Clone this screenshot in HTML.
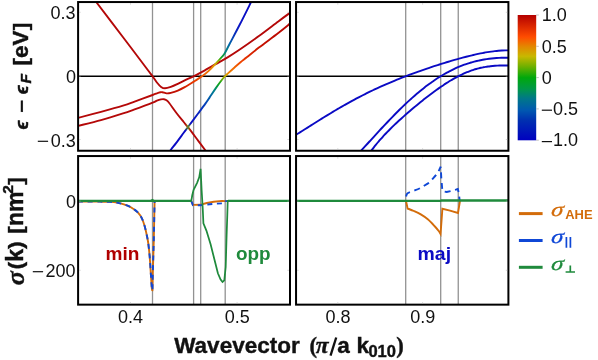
<!DOCTYPE html>
<html><head><meta charset="utf-8"><title>Band structure</title>
<style>
html,body{margin:0;padding:0;background:#fff;}
body{width:598px;height:360px;overflow:hidden;}
svg{display:block;will-change:transform;}
text{font-family:"Liberation Sans",sans-serif;}
.tk{font-size:18px;fill:#111;}
.ser{font-family:"Liberation Serif",serif;}
</style></head><body>
<svg width="598" height="360" viewBox="0 0 598 360">
<defs>
<linearGradient id="cb" x1="0" y1="0" x2="0" y2="1"><stop offset="0.0000" stop-color="#b40000"/><stop offset="0.1750" stop-color="#ff4c00"/><stop offset="0.2500" stop-color="#e48600"/><stop offset="0.3300" stop-color="#c8b800"/><stop offset="0.4100" stop-color="#70b000"/><stop offset="0.5000" stop-color="#00a80c"/><stop offset="0.5900" stop-color="#009848"/><stop offset="0.6650" stop-color="#007888"/><stop offset="0.7600" stop-color="#0058b0"/><stop offset="0.8400" stop-color="#0030b0"/><stop offset="1.0000" stop-color="#0000c0"/></linearGradient>
<linearGradient id="gC" gradientUnits="userSpaceOnUse" x1="0" y1="20.00" x2="0" y2="151.00"><stop offset="0.0000" stop-color="#b40404"/><stop offset="0.1908" stop-color="#c41000"/><stop offset="0.2824" stop-color="#e02c00"/><stop offset="0.3206" stop-color="#f04400"/><stop offset="0.4008" stop-color="#f08000"/><stop offset="0.4275" stop-color="#d0b400"/><stop offset="0.4427" stop-color="#90b000"/><stop offset="0.4733" stop-color="#20a818"/><stop offset="0.4962" stop-color="#08a028"/><stop offset="0.5420" stop-color="#008090"/><stop offset="0.5878" stop-color="#0060a8"/><stop offset="0.6336" stop-color="#0444b8"/><stop offset="0.7023" stop-color="#0828c0"/><stop offset="0.7634" stop-color="#0a12c4"/><stop offset="0.7901" stop-color="#0a0ec4"/><stop offset="0.8053" stop-color="#3a6a50"/><stop offset="0.8168" stop-color="#6c8420"/><stop offset="0.8282" stop-color="#3a6a50"/><stop offset="0.8435" stop-color="#0a0ac4"/><stop offset="1.0000" stop-color="#0a0ac4"/></linearGradient>
<linearGradient id="gB" gradientUnits="userSpaceOnUse" x1="0" y1="2.00" x2="0" y2="126.00"><stop offset="0.0000" stop-color="#0a0ac4"/><stop offset="0.1935" stop-color="#0a14c4"/><stop offset="0.2742" stop-color="#0838b8"/><stop offset="0.3387" stop-color="#0064a8"/><stop offset="0.4073" stop-color="#008878"/><stop offset="0.4516" stop-color="#14a814"/><stop offset="0.4758" stop-color="#90b000"/><stop offset="0.5000" stop-color="#d0a800"/><stop offset="0.5242" stop-color="#e89000"/><stop offset="0.5645" stop-color="#f07000"/><stop offset="0.5968" stop-color="#f05a00"/><stop offset="0.6452" stop-color="#e83800"/><stop offset="0.6935" stop-color="#d01c00"/><stop offset="0.7339" stop-color="#bc0c04"/><stop offset="0.7903" stop-color="#b40808"/><stop offset="1.0000" stop-color="#b40808"/></linearGradient>
<linearGradient id="gD" gradientUnits="userSpaceOnUse" x1="78" y1="0" x2="210" y2="0"><stop offset="0.0000" stop-color="#b40808"/><stop offset="0.8121" stop-color="#b40808"/><stop offset="0.8242" stop-color="#a04c08"/><stop offset="0.8333" stop-color="#788418"/><stop offset="0.8424" stop-color="#a04c08"/><stop offset="0.8545" stop-color="#b40808"/><stop offset="1.0000" stop-color="#b40808"/></linearGradient>
<clipPath id="cTL"><rect x="78.10" y="2.05" width="211.90" height="148.70"/></clipPath>
<clipPath id="cTR"><rect x="296.05" y="2.05" width="212.35" height="148.70"/></clipPath>
<clipPath id="cBL"><rect x="78.10" y="156.05" width="211.90" height="148.60"/></clipPath>
<clipPath id="cBR"><rect x="296.05" y="156.05" width="212.35" height="148.60"/></clipPath>
</defs>
<rect width="598" height="360" fill="#fff"/>
<g stroke="#929292" stroke-width="1.3" fill="none"><path d="M152.50 2.05 V150.75"/><path d="M152.50 156.05 V304.65"/><path d="M193.60 2.05 V150.75"/><path d="M193.60 156.05 V304.65"/><path d="M200.70 2.05 V150.75"/><path d="M200.70 156.05 V304.65"/><path d="M225.20 2.05 V150.75"/><path d="M225.20 156.05 V304.65"/><path d="M405.70 2.05 V150.75"/><path d="M405.70 156.05 V304.65"/><path d="M440.70 2.05 V150.75"/><path d="M440.70 156.05 V304.65"/><path d="M458.25 2.05 V150.75"/><path d="M458.25 156.05 V304.65"/></g>
<g stroke="#000" stroke-width="1.3"><path d="M78.10 76.25 H290.00"/><path d="M296.05 76.25 H508.40"/></g>
<g clip-path="url(#cTL)" fill="none" stroke-width="1.9" stroke-linejoin="round">
<path d="M78.00 125.90 C81.83 124.93 93.50 122.18 101.00 120.10 C108.50 118.02 117.52 115.15 123.00 113.40 C128.48 111.65 128.97 111.40 133.90 109.60 C138.83 107.80 148.77 104.10 152.60 102.60 C156.43 101.10 155.50 101.13 156.90 100.60 C158.30 100.07 159.83 99.63 161.00 99.40 C162.17 99.17 162.98 99.05 163.90 99.20 C164.82 99.35 165.62 99.67 166.50 100.30 C167.38 100.93 167.54 100.88 169.20 103.00 C170.86 105.12 174.03 109.83 176.45 113.00 C178.87 116.17 181.77 119.63 183.70 122.00 C185.62 124.37 185.60 124.10 188.00 127.20 C190.40 130.30 195.18 136.72 198.10 140.60 C201.02 144.48 204.27 148.85 205.50 150.50" stroke="url(#gD)"/>
<path d="M170.00 151.00 C170.23 150.67 170.33 150.40 171.40 149.00 C172.47 147.60 174.40 145.30 176.45 142.60 C178.50 139.90 181.77 135.40 183.70 132.80 C185.62 130.20 185.60 130.22 188.00 127.00 C190.40 123.78 195.20 117.40 198.10 113.50 C201.00 109.60 203.50 106.25 205.40 103.60 C207.30 100.95 207.82 100.10 209.50 97.60 C211.18 95.10 213.46 91.53 215.50 88.60 C217.54 85.67 220.13 82.08 221.75 80.00 C223.37 77.92 224.16 77.20 225.20 76.10 C226.24 75.00 226.49 74.80 228.00 73.40 C229.51 72.00 232.17 69.57 234.25 67.70 C236.33 65.83 238.42 63.93 240.50 62.20 C242.58 60.47 243.68 59.73 246.75 57.30 C249.82 54.87 253.64 51.65 258.90 47.60 C264.16 43.55 273.12 37.00 278.30 33.00 C283.48 29.00 288.05 25.17 290.00 23.60" stroke="url(#gC)"/>
<path d="M96.20 2.00 C100.83 8.08 115.40 27.17 124.00 38.50 C132.60 49.83 143.04 63.71 147.80 70.00 C152.56 76.29 151.03 74.17 152.55 76.25 C154.07 78.33 155.48 80.72 156.90 82.50 C158.32 84.28 159.75 85.93 161.10 86.90 C162.45 87.87 163.38 88.30 165.00 88.30 C166.62 88.30 168.67 87.63 170.80 86.90 C172.93 86.17 175.48 84.98 177.80 83.90 C180.12 82.82 182.07 81.67 184.70 80.40 C187.33 79.13 190.55 77.82 193.60 76.30 C196.65 74.78 199.35 73.32 203.00 71.30 C206.65 69.28 211.33 66.57 215.50 64.20 C219.67 61.83 224.02 59.50 228.00 57.10 C231.98 54.70 234.25 53.32 239.40 49.80 C244.55 46.28 252.42 40.73 258.90 36.00 C265.38 31.27 273.12 25.27 278.30 21.40 C283.48 17.53 288.05 14.23 290.00 12.80" stroke="#b40808"/>
<path d="M78.00 117.90 C81.83 116.88 93.50 113.85 101.00 111.80 C108.50 109.75 117.52 107.25 123.00 105.60 C128.48 103.95 128.97 103.67 133.90 101.90 C138.83 100.13 148.77 96.43 152.60 95.00 C156.43 93.57 155.62 93.75 156.90 93.30 C158.18 92.85 159.37 92.48 160.30 92.30 C161.23 92.12 161.43 92.02 162.50 92.20 C163.57 92.38 165.32 93.28 166.70 93.40 C168.08 93.52 168.95 93.37 170.80 92.90 C172.65 92.43 175.48 91.55 177.80 90.60 C180.12 89.65 182.04 88.70 184.70 87.20 C187.36 85.70 190.87 83.42 193.75 81.60 C196.63 79.78 199.42 78.17 202.00 76.30 C204.58 74.43 207.00 72.47 209.25 70.40 C211.50 68.33 213.42 66.13 215.50 63.90 C217.58 61.67 220.18 58.82 221.75 57.00 C223.32 55.18 223.58 55.21 224.90 53.00 C226.22 50.79 227.28 48.37 229.70 43.75 C232.12 39.13 236.15 31.62 239.40 25.30 C242.65 18.98 247.07 10.10 249.20 5.80 C251.33 1.50 251.70 0.55 252.20 -0.50" stroke="url(#gB)"/>
</g>
<g clip-path="url(#cTR)" fill="none" stroke-width="1.9" stroke="#0a0ac4">
<path d="M295.00 135.44 C295.59 135.07 297.38 133.98 298.57 133.24 C299.76 132.50 300.94 131.76 302.13 131.01 C303.32 130.27 304.51 129.52 305.70 128.77 C306.89 128.02 308.08 127.27 309.27 126.52 C310.46 125.77 311.64 125.02 312.83 124.27 C314.02 123.52 315.21 122.76 316.40 122.02 C317.59 121.27 318.78 120.52 319.97 119.78 C321.16 119.04 322.34 118.30 323.53 117.56 C324.72 116.82 325.91 116.09 327.10 115.36 C328.29 114.63 329.48 113.91 330.67 113.19 C331.86 112.47 333.04 111.75 334.23 111.04 C335.42 110.34 336.61 109.63 337.80 108.93 C338.99 108.24 340.18 107.54 341.37 106.86 C342.56 106.17 343.74 105.49 344.93 104.82 C346.12 104.15 347.31 103.48 348.50 102.82 C349.69 102.16 350.88 101.51 352.07 100.86 C353.26 100.22 354.44 99.58 355.63 98.95 C356.82 98.31 358.01 97.69 359.20 97.07 C360.39 96.45 361.58 95.84 362.77 95.24 C363.96 94.63 365.14 94.04 366.33 93.45 C367.52 92.86 368.71 92.27 369.90 91.70 C371.09 91.12 372.28 90.55 373.47 89.99 C374.66 89.43 375.84 88.87 377.03 88.33 C378.22 87.78 379.41 87.24 380.60 86.70 C381.79 86.16 382.98 85.63 384.17 85.11 C385.36 84.59 386.54 84.07 387.73 83.56 C388.92 83.05 390.11 82.55 391.30 82.05 C392.49 81.55 393.68 81.06 394.87 80.57 C396.06 80.08 397.24 79.60 398.43 79.12 C399.62 78.64 400.81 78.17 402.00 77.71 C403.19 77.24 404.38 76.78 405.57 76.32 C406.76 75.87 407.94 75.42 409.13 74.97 C410.32 74.52 411.51 74.08 412.70 73.64 C413.89 73.20 415.08 72.77 416.27 72.34 C417.46 71.91 418.64 71.49 419.83 71.07 C421.02 70.65 422.21 70.23 423.40 69.82 C424.59 69.40 425.78 68.99 426.97 68.59 C428.16 68.18 429.34 67.78 430.53 67.39 C431.72 66.99 432.91 66.59 434.10 66.20 C435.29 65.82 436.48 65.43 437.67 65.05 C438.86 64.67 440.04 64.29 441.23 63.91 C442.42 63.54 443.61 63.17 444.80 62.80 C445.99 62.44 447.18 62.08 448.37 61.72 C449.56 61.36 450.74 61.01 451.93 60.66 C453.12 60.31 454.31 59.97 455.50 59.63 C456.69 59.29 457.88 58.95 459.07 58.63 C460.26 58.30 461.44 57.98 462.63 57.66 C463.82 57.34 465.01 57.03 466.20 56.73 C467.39 56.42 468.58 56.12 469.77 55.83 C470.96 55.54 472.14 55.26 473.33 54.99 C474.52 54.71 475.71 54.45 476.90 54.19 C478.09 53.93 479.28 53.68 480.47 53.44 C481.66 53.21 482.84 52.98 484.03 52.76 C485.22 52.54 486.41 52.34 487.60 52.14 C488.79 51.95 489.98 51.77 491.17 51.60 C492.36 51.44 493.54 51.28 494.73 51.14 C495.92 51.01 497.11 50.88 498.30 50.78 C499.49 50.67 500.68 50.58 501.87 50.51 C503.06 50.44 504.24 50.39 505.43 50.36 C506.62 50.33 508.41 50.34 509.00 50.33"/>
<path d="M360.00 151.86 C360.41 151.41 361.66 150.06 362.48 149.16 C363.31 148.26 364.14 147.36 364.97 146.45 C365.79 145.55 366.62 144.65 367.45 143.74 C368.28 142.83 369.11 141.93 369.93 141.02 C370.76 140.12 371.59 139.21 372.42 138.30 C373.24 137.40 374.07 136.49 374.90 135.59 C375.73 134.69 376.56 133.79 377.38 132.89 C378.21 131.99 379.04 131.09 379.87 130.20 C380.69 129.30 381.52 128.41 382.35 127.52 C383.18 126.64 384.01 125.75 384.83 124.87 C385.66 123.99 386.49 123.11 387.32 122.24 C388.14 121.37 388.97 120.50 389.80 119.64 C390.63 118.77 391.46 117.91 392.28 117.06 C393.11 116.21 393.94 115.36 394.77 114.52 C395.59 113.68 396.42 112.84 397.25 112.01 C398.08 111.18 398.91 110.36 399.73 109.54 C400.56 108.73 401.39 107.92 402.22 107.12 C403.04 106.32 403.87 105.52 404.70 104.73 C405.53 103.95 406.36 103.17 407.18 102.39 C408.01 101.62 408.84 100.86 409.67 100.10 C410.49 99.35 411.32 98.60 412.15 97.86 C412.98 97.13 413.81 96.40 414.63 95.67 C415.46 94.95 416.29 94.24 417.12 93.54 C417.94 92.84 418.77 92.14 419.60 91.46 C420.43 90.78 421.26 90.10 422.08 89.44 C422.91 88.77 423.74 88.12 424.57 87.47 C425.39 86.83 426.22 86.20 427.05 85.57 C427.88 84.95 428.71 84.33 429.53 83.73 C430.36 83.12 431.19 82.53 432.02 81.95 C432.84 81.36 433.67 80.79 434.50 80.23 C435.33 79.67 436.16 79.12 436.98 78.58 C437.81 78.04 438.64 77.51 439.47 76.99 C440.29 76.47 441.12 75.96 441.95 75.47 C442.78 74.97 443.61 74.48 444.43 74.01 C445.26 73.53 446.09 73.07 446.92 72.62 C447.74 72.16 448.57 71.72 449.40 71.29 C450.23 70.86 451.06 70.44 451.88 70.03 C452.71 69.63 453.54 69.23 454.37 68.84 C455.19 68.46 456.02 68.08 456.85 67.72 C457.68 67.35 458.51 67.00 459.33 66.66 C460.16 66.31 460.99 65.98 461.82 65.66 C462.64 65.34 463.47 65.03 464.30 64.73 C465.13 64.43 465.96 64.14 466.78 63.86 C467.61 63.59 468.44 63.32 469.27 63.06 C470.09 62.81 470.92 62.56 471.75 62.32 C472.58 62.09 473.41 61.86 474.23 61.64 C475.06 61.43 475.89 61.22 476.72 61.02 C477.54 60.83 478.37 60.64 479.20 60.46 C480.03 60.29 480.86 60.12 481.68 59.96 C482.51 59.80 483.34 59.66 484.17 59.52 C484.99 59.38 485.82 59.25 486.65 59.12 C487.48 59.00 488.31 58.89 489.13 58.78 C489.96 58.68 490.79 58.58 491.62 58.49 C492.44 58.40 493.27 58.32 494.10 58.25 C494.93 58.18 495.76 58.11 496.58 58.06 C497.41 58.00 498.24 57.95 499.07 57.90 C499.89 57.86 500.72 57.82 501.55 57.79 C502.38 57.76 503.21 57.74 504.03 57.72 C504.86 57.70 505.69 57.69 506.52 57.68 C507.34 57.68 508.59 57.68 509.00 57.68"/>
<path d="M369.00 153.88 C369.39 153.34 370.56 151.70 371.33 150.65 C372.11 149.60 372.89 148.58 373.67 147.58 C374.44 146.58 375.22 145.61 376.00 144.65 C376.78 143.69 377.56 142.76 378.33 141.84 C379.11 140.92 379.89 140.02 380.67 139.14 C381.44 138.25 382.22 137.39 383.00 136.54 C383.78 135.68 384.56 134.85 385.33 134.02 C386.11 133.20 386.89 132.39 387.67 131.59 C388.44 130.79 389.22 130.00 390.00 129.23 C390.78 128.45 391.56 127.68 392.33 126.92 C393.11 126.16 393.89 125.42 394.67 124.67 C395.44 123.93 396.22 123.20 397.00 122.47 C397.78 121.75 398.56 121.03 399.33 120.32 C400.11 119.60 400.89 118.90 401.67 118.20 C402.44 117.50 403.22 116.80 404.00 116.11 C404.78 115.42 405.56 114.74 406.33 114.06 C407.11 113.38 407.89 112.71 408.67 112.04 C409.44 111.37 410.22 110.70 411.00 110.04 C411.78 109.38 412.56 108.72 413.33 108.07 C414.11 107.41 414.89 106.77 415.67 106.12 C416.44 105.48 417.22 104.83 418.00 104.20 C418.78 103.56 419.56 102.93 420.33 102.30 C421.11 101.67 421.89 101.04 422.67 100.42 C423.44 99.80 424.22 99.19 425.00 98.58 C425.78 97.96 426.56 97.36 427.33 96.75 C428.11 96.15 428.89 95.55 429.67 94.96 C430.44 94.37 431.22 93.78 432.00 93.20 C432.78 92.62 433.56 92.04 434.33 91.47 C435.11 90.90 435.89 90.34 436.67 89.78 C437.44 89.22 438.22 88.67 439.00 88.12 C439.78 87.58 440.56 87.04 441.33 86.51 C442.11 85.98 442.89 85.45 443.67 84.94 C444.44 84.42 445.22 83.91 446.00 83.41 C446.78 82.91 447.56 82.42 448.33 81.94 C449.11 81.45 449.89 80.98 450.67 80.51 C451.44 80.05 452.22 79.59 453.00 79.14 C453.78 78.70 454.56 78.26 455.33 77.83 C456.11 77.40 456.89 76.99 457.67 76.58 C458.44 76.17 459.22 75.78 460.00 75.39 C460.78 75.01 461.56 74.63 462.33 74.27 C463.11 73.90 463.89 73.55 464.67 73.21 C465.44 72.87 466.22 72.54 467.00 72.22 C467.78 71.90 468.56 71.59 469.33 71.30 C470.11 71.00 470.89 70.72 471.67 70.45 C472.44 70.18 473.22 69.92 474.00 69.67 C474.78 69.42 475.56 69.19 476.33 68.97 C477.11 68.74 477.89 68.53 478.67 68.33 C479.44 68.13 480.22 67.94 481.00 67.77 C481.78 67.59 482.56 67.43 483.33 67.27 C484.11 67.12 484.89 66.98 485.67 66.85 C486.44 66.72 487.22 66.60 488.00 66.49 C488.78 66.38 489.56 66.28 490.33 66.19 C491.11 66.10 491.89 66.02 492.67 65.95 C493.44 65.88 494.22 65.82 495.00 65.76 C495.78 65.71 496.56 65.66 497.33 65.63 C498.11 65.59 498.89 65.56 499.67 65.53 C500.44 65.51 501.22 65.49 502.00 65.47 C502.78 65.46 503.56 65.45 504.33 65.44 C505.11 65.44 505.89 65.43 506.67 65.43 C507.44 65.43 508.61 65.43 509.00 65.43"/>
</g>
<g clip-path="url(#cBL)" fill="none" stroke-width="1.9" stroke-linejoin="round">
<path d="M78.00 201.45 C81.67 201.48 94.67 201.57 100.00 201.65 C105.33 201.73 107.17 201.74 110.00 201.90 C112.83 202.06 114.68 202.18 117.00 202.60 C119.32 203.02 121.60 203.63 123.90 204.40 C126.20 205.17 128.48 205.87 130.80 207.20 C133.12 208.53 135.93 210.50 137.80 212.40 C139.67 214.30 140.85 216.29 142.00 218.60 C143.15 220.91 143.90 223.47 144.70 226.25 C145.50 229.03 146.20 232.43 146.80 235.30 C147.40 238.18 147.82 239.93 148.30 243.50 C148.78 247.07 149.28 251.73 149.70 256.70 C150.12 261.67 150.47 268.30 150.80 273.30 C151.13 278.30 151.47 283.85 151.70 286.70 C151.93 289.55 152.12 289.78 152.20 290.40 L152.20 290.40 L152.45 290.40 L152.80 273.30 L153.30 256.70 L153.80 240.00 L154.30 215.00 L154.60 201.00 L154.60 201.00 L191.30 201.00 L192.90 204.90 L199.90 204.80 L206.80 203.00 L213.80 201.70 L222.10 200.90 L225.00 201.10 L290.00 201.10" stroke="#d36c0a"/>
<path d="M78.00 201.45 C81.67 201.48 94.67 201.57 100.00 201.65 C105.33 201.73 107.17 201.74 110.00 201.90 C112.83 202.06 114.68 202.18 117.00 202.60 C119.32 203.02 121.60 203.63 123.90 204.40 C126.20 205.17 128.48 205.87 130.80 207.20 C133.12 208.53 135.93 210.50 137.80 212.40 C139.67 214.30 140.85 216.29 142.00 218.60 C143.15 220.91 143.90 223.47 144.70 226.25 C145.50 229.03 146.20 232.43 146.80 235.30 C147.40 238.18 147.82 239.93 148.30 243.50 C148.78 247.07 149.28 251.73 149.70 256.70 C150.12 261.67 150.47 268.30 150.80 273.30 C151.13 278.30 151.47 283.85 151.70 286.70 C151.93 289.55 152.12 289.78 152.20 290.40 L152.20 290.40 L152.45 290.40 L152.80 273.30 L153.30 256.70 L153.80 240.00 L154.30 215.00 L154.60 201.00 L154.60 201.00 L191.30 201.00 L192.90 205.20 L199.90 205.30 L206.80 204.50 L213.80 203.80 L222.00 203.40 L225.10 203.10 L225.50 201.10 L290.00 201.10" stroke="#0f47d6" stroke-dasharray="5 4.6"/>
<path d="M78.00 200.90 L150.50 200.90 L152.40 199.70 L154.30 200.90 L191.30 200.90 L192.25 195.30 L193.60 189.80 L197.10 182.80 L199.20 177.30 L200.60 168.90 L201.60 189.80 L202.70 207.80 L203.40 223.30 L206.40 230.60 L210.60 244.20 L214.75 260.80 L217.90 273.30 L220.60 279.60 L222.50 282.00 L224.30 280.40 L225.70 267.00 L226.60 235.80 L227.30 215.00 L227.70 200.90 L290.00 200.90" stroke="#1f8a3c" stroke-width="1.75" stroke-linejoin="miter"/>
<path d="M78 200.85 H191 M228 200.85 H290" stroke="#1f8a3c" stroke-width="2.3"/>
</g>
<g clip-path="url(#cBR)" fill="none" stroke-width="1.9" stroke-linejoin="miter">
<path d="M296 201.05 H406 L407.6 208.5 L407.60 208.50 C408.65 208.92 411.70 210.02 413.90 211.00 C416.10 211.98 418.48 213.02 420.80 214.40 C423.12 215.78 425.48 217.33 427.80 219.30 C430.12 221.28 432.85 224.25 434.70 226.25 C436.55 228.25 437.92 230.01 438.90 231.30 C439.88 232.59 440.27 233.55 440.55 234.00 L440.55 234.00 L442.40 208.80 L450.00 210.60 L458.00 213.00 L460.00 200.90" stroke="#d36c0a"/>
<path d="M296 201.05 H405.8 L406 196.8 L406.00 196.80 C406.27 196.22 406.28 194.30 407.60 193.30 C408.92 192.30 411.93 191.60 413.90 190.80 C415.87 190.00 417.78 189.28 419.40 188.50 C421.02 187.72 421.97 187.10 423.60 186.10 C425.23 185.10 427.82 183.58 429.20 182.50 C430.58 181.42 430.70 180.92 431.90 179.60 C433.10 178.28 435.23 176.10 436.40 174.60 C437.57 173.10 438.18 171.92 438.90 170.60 C439.62 169.28 440.40 167.35 440.70 166.70 L440.70 166.70 L441.30 178.00 L442.40 191.20 L446.70 192.00 L451.70 190.80 L455.80 189.70 L457.80 189.00 L458.70 192.50 L459.70 200.50" stroke="#0f47d6" stroke-dasharray="6 4.6" stroke-dashoffset="2"/>
<path d="M296.00 200.90 L440.70 200.90 L441.50 200.50 L508.00 200.50" stroke="#1f8a3c" stroke-width="2.3"/>
</g>
<g fill="none" stroke="#000" stroke-width="2.0">
<rect x="78.10" y="2.05" width="211.90" height="148.70"/>
<rect x="78.10" y="156.05" width="211.90" height="148.60"/>
<rect x="296.05" y="2.05" width="212.35" height="148.70"/>
<rect x="296.05" y="156.05" width="212.35" height="148.60"/>
</g>
<g class="tk" text-anchor="end">
<text x="75.6" y="19">0.3</text>
<text x="76.0" y="82.7">0</text>
<text x="75.8" y="146.5">0.3</text>
<text x="76.0" y="207.5">0</text>
<text x="75.6" y="276.7">200</text>
</g>
<g stroke="#111" stroke-width="1.2" fill="none">
<path d="M37.8 141.3 H48.1"/>
<path d="M32.8 271.7 H43.1"/>
<path d="M541.8 110.2 H552"/>
<path d="M541.8 141.6 H552"/>
</g>
<g class="tk" text-anchor="middle">
<text x="130.5" y="323.3">0.4</text>
<text x="237.2" y="323.3">0.5</text>
<text x="337.9" y="323.3">0.8</text>
<text x="422.7" y="323.3">0.9</text>
</g>
<g stroke="#bbb" stroke-width="0.6" fill="none">
<path d="M130.5 3.1 v1.5 M130.5 303.6 v-1.5 M130.5 157.1 v1.5 M130.5 149.7 v-1.5"/>
<path d="M237.1 3.1 v1.5 M237.1 303.6 v-1.5 M237.1 157.1 v1.5 M237.1 149.7 v-1.5"/>
<path d="M337.8 3.1 v1.5 M337.8 303.6 v-1.5 M337.8 157.1 v1.5 M337.8 149.7 v-1.5"/>
<path d="M422.6 3.1 v1.5 M422.6 303.6 v-1.5 M422.6 157.1 v1.5 M422.6 149.7 v-1.5"/>
<path d="M79.1 12.3 h1.5 M288.9 12.3 h-1.5 M297.1 12.3 h1.5 M507.3 12.3 h-1.5"/>
<path d="M79.1 76.2 h1.5 M288.9 76.2 h-1.5 M297.1 76.2 h1.5 M507.3 76.2 h-1.5"/>
<path d="M79.1 139.5 h1.5 M288.9 139.5 h-1.5 M297.1 139.5 h1.5 M507.3 139.5 h-1.5"/>
<path d="M79.1 201.1 h1.5 M288.9 201.1 h-1.5 M297.1 201.1 h1.5 M507.3 201.1 h-1.5"/>
<path d="M79.1 270.3 h1.5 M288.9 270.3 h-1.5 M297.1 270.3 h1.5 M507.3 270.3 h-1.5"/>
</g>
<rect x="517.7" y="15" width="18.5" height="125.3" fill="url(#cb)"/>
<g stroke="#aaa" stroke-width="0.7">
<path d="M536.2 15.00 h2.6"/>
<path d="M536.2 46.30 h2.6"/>
<path d="M536.2 77.60 h2.6"/>
<path d="M536.2 108.90 h2.6"/>
<path d="M536.2 140.20 h2.6"/>
</g>
<g class="tk">
<text x="541.7" y="21.20">1.0</text>
<text x="541.7" y="52.50">0.5</text>
<text x="541.7" y="83.80">0</text>
<text x="552.9" y="115.10">0.5</text>
<text x="552.9" y="146.40">1.0</text>
</g>
<text transform="translate(105.6,259.8) scale(1.06,1)" font-size="18" font-weight="bold" fill="#b00000">min</text>
<text transform="translate(236.0,259.6) scale(1.05,1)" font-size="18" font-weight="bold" fill="#1f8a3c">opp</text>
<text transform="translate(417.6,259.6) scale(1.08,1)" font-size="18" font-weight="bold" fill="#0a0ac4">maj</text>
<path d="M518.9 213.6 H542.6" stroke="#d36c0a" stroke-width="3.0"/>
<path d="M518.9 240.5 H542.6" stroke="#0f47d6" stroke-width="3.0"/>
<path d="M518.9 267.3 H542.6" stroke="#1f8a3c" stroke-width="3.0"/>
<text transform="translate(550.6,215.6) scale(1.22,1) skewX(-8)" class="ser" font-style="italic" font-size="20" fill="#d36c0a" stroke="#d36c0a" stroke-width="0.3">σ</text>
<text x="565.2" y="218.7" font-size="12.8" font-weight="bold" fill="#d36c0a" stroke="#d36c0a" stroke-width="0" textLength="27.4" lengthAdjust="spacingAndGlyphs">AHE</text>
<text transform="translate(550.6,242.6) scale(1.22,1) skewX(-8)" class="ser" font-style="italic" font-size="20" fill="#0f47d6" stroke="#0f47d6" stroke-width="0.3">σ</text>
<path d="M566.4 237 V247.8 M570.4 237 V247.8" stroke="#0f47d6" stroke-width="1.7"/>
<text transform="translate(550.6,269.6) scale(1.22,1) skewX(-8)" class="ser" font-style="italic" font-size="20" fill="#1f8a3c" stroke="#1f8a3c" stroke-width="0.3">σ</text>
<path d="M570.3 265.4 V272 M565.6 272 H575" stroke="#1f8a3c" stroke-width="1.7" fill="none"/>
<g font-weight="bold" fill="#111" stroke="#111" stroke-width="0.4" transform="translate(174.2,353.1)">
<text x="0" y="0" font-size="22.5">Wavevector</text>
<text x="135.2" y="0" font-size="22.5" class="ser">(</text>
<text x="141.6" y="0" font-size="23.5" class="ser" font-style="italic">π</text>
<path d="M156.3 2.6 L162.0 -15.6" stroke="#111" stroke-width="2.3" fill="none"/>
<text x="163.0" y="0" font-size="22.5">a</text>
<text x="182.2" y="0" font-size="22.5">k</text>
<text x="194.2" y="3.6" font-size="16.5">010</text>
<text x="222" y="0" font-size="22.5" class="ser">)</text>
</g>
<g font-weight="bold" fill="#111" stroke="#111" stroke-width="0.45">
<text transform="translate(28.20,129.60) rotate(-90) scale(1.000,1.000)" font-size="18.50" font-style="italic">ϵ</text>
<rect x="21.0" y="100.8" width="1.8" height="11.0"/>
<text transform="translate(28.20,94.20) rotate(-90) scale(1.000,1.000)" font-size="18.50" font-style="italic">ϵ</text>
<text transform="translate(31.30,83.60) rotate(-90) scale(1.000,1.000)" font-size="15.50" font-style="italic">F</text>
<text transform="translate(28.00,65.60) rotate(-90) scale(1.000,0.850)" font-size="23.00" >[</text>
<text transform="translate(28.00,57.90) rotate(-90) scale(1.000,1.000)" font-size="22.40" >eV</text>
<text transform="translate(28.00,30.20) rotate(-90) scale(1.000,0.850)" font-size="23.00" >]</text>
</g>
<g font-weight="bold" fill="#111" stroke="#111" stroke-width="0.45">
<text transform="translate(24.00,285.30) rotate(-90) scale(1.000,1.000)" font-size="26.00" class="ser" font-style="italic">σ</text>
<text transform="translate(22.60,269.50) rotate(-90) scale(1.000,0.850)" font-size="23.00" >(</text>
<text transform="translate(22.60,261.80) rotate(-90) scale(1.000,1.000)" font-size="23.00" >k</text>
<text transform="translate(22.60,249.00) rotate(-90) scale(1.000,0.850)" font-size="23.00" >)</text>
<text transform="translate(22.60,233.80) rotate(-90) scale(1.000,0.850)" font-size="23.00" >[</text>
<text transform="translate(22.60,226.10) rotate(-90) scale(1.000,1.000)" font-size="23.00" >nm</text>
<text transform="translate(12.60,193.70) rotate(-90) scale(1.000,1.000)" font-size="15.50" >2</text>
<text transform="translate(22.60,184.80) rotate(-90) scale(1.000,0.850)" font-size="23.00" >]</text>
</g>
</svg></body></html>
